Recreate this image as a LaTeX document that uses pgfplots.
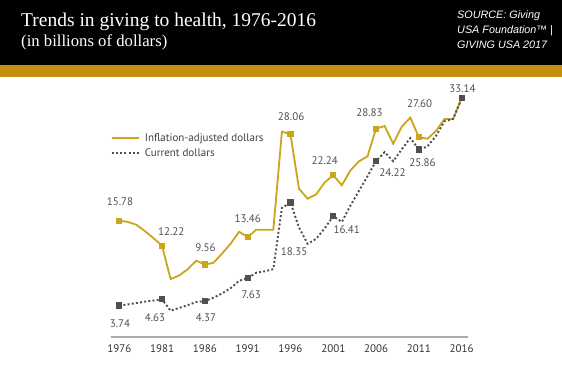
\documentclass[border=0pt]{standalone}
\usepackage{pgfplots}
\pgfplotsset{compat=1.18}
\usepackage{fontspec}
\setmainfont{PT Sans}
\newfontfamily\titlefont{Liberation Serif}
\newfontfamily\srcfont{Liberation Sans}
\definecolor{hdrgold}{RGB}{196,144,16}
\definecolor{linegold}{RGB}{201,166,28}
\definecolor{dotgray}{RGB}{80,80,80}
\definecolor{lblgray}{RGB}{80,80,80}
\definecolor{axgray}{RGB}{170,170,170}

\begin{document}
\begin{tikzpicture}[x=1pt,y=1pt]
\path[use as bounding box] (0pt,0pt) rectangle (562pt,366pt);
\fill[white] (0pt,0pt) rectangle (562pt,366pt);
\fill[black] (0pt,366pt) rectangle (562pt,301pt);
\fill[hdrgold] (0pt,301pt) rectangle (562pt,289pt);
\node[anchor=base west, inner sep=0, text=white, font=\titlefont\fontsize{19.5}{22}\selectfont] at (21pt,339pt) {Trends in giving to health, 1976-2016};
\node[anchor=base west, inner sep=0, text=white, font=\titlefont\fontsize{16.7}{19}\selectfont] at (21pt,319.3pt) {(in billions of dollars)};
\node[anchor=north west, inner sep=0, text=white, align=left, font=\srcfont\itshape\fontsize{10.8}{15.3}\selectfont] at (457pt,356pt) {SOURCE: Giving\\USA Foundation™ |\\GIVING USA 2017};

\begin{axis}[
  at={(110.7pt,29pt)}, anchor=south west,
  scale only axis, width=357.3pt, height=257pt,
  xmin=1975, xmax=2016.74, ymin=-0.72, ymax=35.73,
  axis x line*=bottom, axis y line=none,
  x axis line style={draw=axgray, line width=1.1pt, -},
  xtick={1976,1981,1986,1991,1996,2001,2006,2011,2016},
  xticklabels={1976,1981,1986,1991,1996,2001,2006,2011,2016},
  major tick length=0pt,
  xticklabel style={font=\fontsize{11}{13}\selectfont, text=black!80, yshift=-4pt},
  clip=false,
  legend style={at={(axis description cs:0.0,0.80)}, anchor=north west, draw=none, fill=none,
    font=\fontsize{11}{13}\selectfont, text=black!75, row sep=1.5pt, inner sep=0pt,
    nodes={inner sep=2pt},
    /tikz/every odd column/.append style={column sep=3pt}},
  legend cell align=left,
  legend image code/.code={\draw[#1] (0pt,0pt) -- (27pt,0pt);},
]
\addplot[linegold, line width=1.8pt, mark=square*, mark size=2.2pt, mark repeat=5, mark phase=1,
  mark options={solid}] coordinates {
(1976,15.78) (1977,15.6) (1978,15.2) (1979,14.3) (1980,13.3)
(1981,12.22) (1982,7.5) (1983,8.0) (1984,8.9) (1985,10.1)
(1986,9.56) (1987,9.8) (1988,11.1) (1989,12.5) (1990,14.2)
(1991,13.46) (1992,14.5) (1993,14.5) (1994,14.5) (1995,28.4)
(1996,28.06) (1997,20.3) (1998,18.9) (1999,19.5) (2000,21.2)
(2001,22.24) (2002,20.8) (2003,22.9) (2004,24.2) (2005,24.9)
(2006,28.83) (2007,29.2) (2008,26.7) (2009,29.1) (2010,30.4)
(2011,27.60) (2012,27.4) (2013,28.5) (2014,30.2) (2015,30.2)
(2016,33.14)
};
\addlegendentry{Inflation-adjusted dollars}
\addplot[dotgray, line width=1.9pt, dash pattern=on 2pt off 2.2pt, mark=square*, mark size=2.2pt,
  mark repeat=5, mark phase=1, mark options={solid}] coordinates {
(1976,3.74) (1977,3.9) (1978,4.1) (1979,4.3) (1980,4.45)
(1981,4.63) (1982,3.0) (1983,3.4) (1984,3.8) (1985,4.25)
(1986,4.37) (1987,4.85) (1988,5.45) (1989,6.2) (1990,7.25)
(1991,7.63) (1992,8.4) (1993,8.6) (1994,8.9) (1995,17.6)
(1996,18.35) (1997,14.8) (1998,12.5) (1999,13.2) (2000,14.7)
(2001,16.41) (2002,15.6) (2003,17.9) (2004,20.0) (2005,22.1)
(2006,24.22) (2007,25.5) (2008,24.2) (2009,25.9) (2010,27.5)
(2011,25.86) (2012,26.3) (2013,27.8) (2014,29.9) (2015,30.2)
(2016,33.14)
};
\addlegendentry{Current dollars}

\begin{scope}[every node/.style={font=\fontsize{11}{13}\selectfont, text=lblgray, inner sep=0pt}]
\node at (axis cs:1976.08,18.47) {15.78};
\node at (axis cs:1982.07,14.21) {12.22};
\node at (axis cs:1986.07,11.94) {9.56};
\node at (axis cs:1991.01,16.11) {13.46};
\node at (axis cs:1996.08,30.52) {28.06};
\node at (axis cs:2000.01,24.28) {22.24};
\node at (axis cs:2005.23,31.15) {28.83};
\node at (axis cs:2011.09,32.33) {27.60};
\node at (axis cs:2016.09,34.55) {33.14};
\node at (axis cs:1976.08,1.22) {3.74};
\node at (axis cs:1980.17,2.07) {4.63};
\node at (axis cs:1986.13,2.07) {4.37};
\node at (axis cs:1991.42,5.33) {7.63};
\node at (axis cs:1996.43,11.38) {18.35};
\node at (axis cs:2002.57,14.45) {16.41};
\node at (axis cs:2007.92,22.58) {24.22};
\node at (axis cs:2011.42,24.0) {25.86};
\end{scope}
\end{axis}
\end{tikzpicture}
\end{document}
